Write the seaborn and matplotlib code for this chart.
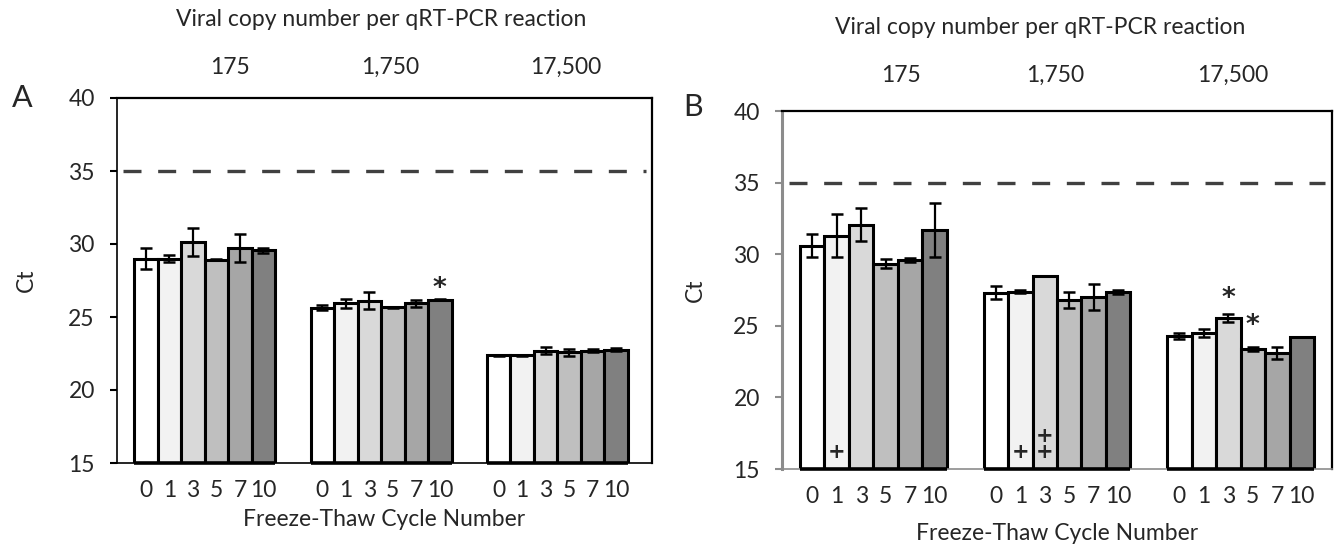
import pandas as pd
import seaborn as sns
import matplotlib.pyplot as plt
import numpy as np

# Data
groups = ["175", "1,750", "17,500"]
cycles = ["0", "1", "3", "5", "7", "10"]
fills = ["#ffffff", "#f2f2f2", "#d9d9d9", "#bfbfbf", "#a6a6a6", "#808080"]

# Panel A: mean Ct and error, one row per copy number group, one column per cycle
a_ct = [[29.0, 29.0, 30.15, 28.93, 29.73, 29.57],
        [25.65, 25.94, 26.12, 25.67, 25.94, 26.19],
        [22.38, 22.38, 22.70, 22.59, 22.70, 22.77]]
a_err = [[0.70, 0.25, 0.95, 0.05, 0.95, 0.18],
         [0.15, 0.32, 0.59, 0.03, 0.25, 0.05],
         [0.03, 0.03, 0.26, 0.25, 0.08, 0.10]]

# Panel B
b_ct = [[30.60, 31.30, 32.07, 29.35, 29.58, 31.67],
        [27.31, 27.38, 28.47, 26.80, 27.01, 27.35],
        [24.29, 24.48, 25.55, 23.36, 23.11, 24.22]]
b_err = [[0.81, 1.50, 1.16, 0.29, 0.12, 1.88],
         [0.44, 0.12, 0.00, 0.55, 0.92, 0.15],
         [0.18, 0.28, 0.25, 0.15, 0.42, 0.00]]

# Significance marks: (group index, cycle index, y, symbol)
a_marks = [(1, 5, 26.95, "*")]
b_marks = [(2, 2, 26.85, "*"), (2, 3, 25.0, "*"),
           (0, 1, 16.2, "+"), (1, 1, 16.2, "+"),
           (1, 2, 16.75, "+\n+")]

cutoff = 35

sns.set_style("white")
plt.rcParams['font.family'] = ['Lato', 'DejaVu Sans']
plt.rcParams['font.size'] = 16.5

fig = plt.figure(figsize=(13.34, 5.44), dpi=100)
W, H = 1334, 544


def px_axes(left, top, right, bottom):
    return fig.add_axes([left / W, 1 - bottom / H, (right - left) / W, (bottom - top) / H])


def panel(ax, ct, err, marks, xlim, side_color):
    df = pd.DataFrame({
        "copies": np.repeat(groups, len(cycles)),
        "cycle": np.tile(cycles, len(groups)),
        "ct": np.ravel(ct),
    })
    sns.barplot(data=df, x="copies", y="ct", hue="cycle", order=groups,
                hue_order=cycles, palette=fills, edgecolor="black",
                linewidth=2.2, errorbar=None, width=0.8, legend=False,
                saturation=1, ax=ax)

    # bar centres from the drawn patches: containers[cycle][group]
    centers = np.array([[ax.containers[c][g].get_x() + ax.containers[c][g].get_width() / 2
                         for c in range(len(cycles))] for g in range(len(groups))])
    bw = ax.containers[0][0].get_width()

    ax.errorbar(centers.ravel(), np.ravel(ct), yerr=np.ravel(err), fmt="none",
                ecolor="black", elinewidth=1.6, capsize=4.5, capthick=1.8, zorder=5)

    # thick bottom edge of each bar group on the 15 baseline
    for g in range(len(groups)):
        ax.hlines(15, centers[g, 0] - bw / 2, centers[g, -1] + bw / 2,
                  color="black", lw=2.6, clip_on=False, zorder=6)

    ax.axhline(cutoff, xmin=0.012, xmax=0.988, color="#404040", lw=2.4,
               dashes=(5.4, 5.0), zorder=1)

    for g, c, y, s in marks:
        size = 19 if s == "*" else 15
        ax.text(centers[g, c], y, s, ha="center", va="center",
                fontsize=size, fontweight="bold", family="DejaVu Sans",
                linespacing=0.75)

    ax.set_ylim(15, 40)
    ax.set_yticks([15, 20, 25, 30, 35, 40])
    ax.set_xlim(*xlim)
    ax.set_xticks(centers.ravel())
    ax.set_xticklabels(cycles * len(groups))
    ax.tick_params(axis="x", length=0, pad=12)
    ax.tick_params(axis="y", length=5, width=1.5, pad=11, left=True,
                   color=side_color)
    ax.set_ylabel("Ct")
    ax.set_xlabel("Freeze-Thaw Cycle Number")
    for s in ["top", "right"]:
        ax.spines[s].set_color("black")
        ax.spines[s].set_linewidth(1.6)
    ax.spines["left"].set_color(side_color)
    ax.spines["bottom"].set_color(side_color)
    ax.spines["bottom"].set_linewidth(1.2)
    return centers


# Panel A
axA = px_axes(117, 98, 652, 463)
panel(axA, a_ct, a_err, a_marks, (-0.497, 2.536), "black")
axA.spines["left"].set_linewidth(1.2)
axA.yaxis.set_label_coords(-0.15, 0.5)
axA.xaxis.set_label_coords(0.5, -0.125)

# Panel B
axB = px_axes(782, 111, 1332, 469)
panel(axB, b_ct, b_err, b_marks, (-0.498, 2.498), "#8c8c8c")
axB.spines["left"].set_linewidth(2.2)
axB.yaxis.set_label_coords(-0.138, 0.5)
axB.xaxis.set_label_coords(0.5, -0.15)

# Top annotations
fig.text(381 / W, 1 - 20 / H, "Viral copy number per qRT-PCR reaction",
         ha="center", va="center")
for x, lab in zip([230, 390, 566], groups):
    fig.text(x / W, 1 - 67 / H, lab, ha="center", va="center")
fig.text(1040 / W, 1 - 28 / H, "Viral copy number per qRT-PCR reaction",
         ha="center", va="center")
for x, lab in zip([901, 1055, 1233], groups):
    fig.text(x / W, 1 - 75 / H, lab, ha="center", va="center")

fig.text(22 / W, 1 - 98 / H, "A", ha="center", va="center", fontsize=22)
fig.text(693 / W, 1 - 107 / H, "B", ha="center", va="center", fontsize=22)

fig.savefig("out.png", dpi=100)
